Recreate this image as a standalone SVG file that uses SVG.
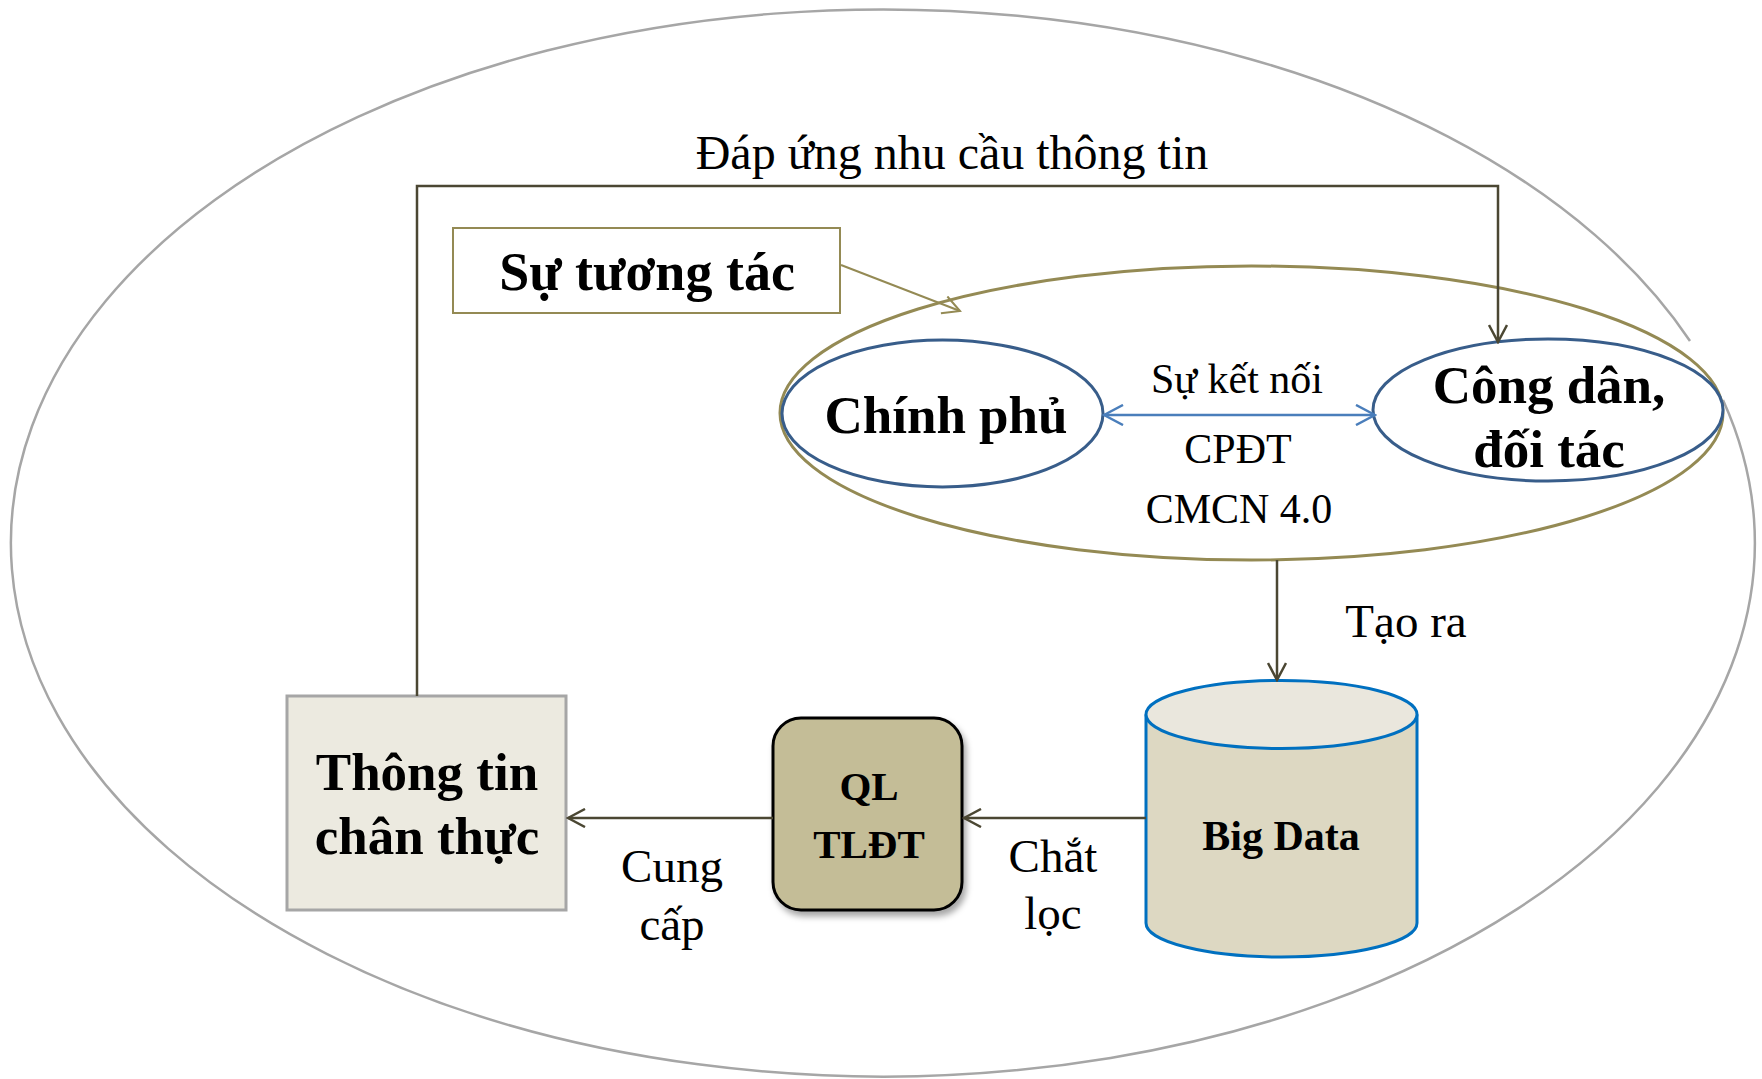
<svg xmlns="http://www.w3.org/2000/svg" width="1762" height="1079" viewBox="0 0 1762 1079">
<style>
text{font-family:"Liberation Serif","Times New Roman",serif;fill:#000;text-anchor:middle}
.b{font-weight:bold}
.conn{fill:none;stroke:#4B4733;stroke-width:2.5}
.blue{fill:none;stroke:#4A7EBB;stroke-width:2.5}
.oliv{fill:none;stroke:#948A54;stroke-width:2}
</style>
<defs>
<marker id="ah" viewBox="0 0 20 20" refX="18" refY="10" markerWidth="20" markerHeight="20" markerUnits="userSpaceOnUse" orient="auto-start-reverse">
<path d="M1 1 L18 10 L1 19" fill="none" stroke="#4B4733" stroke-width="2.5"/>
</marker>
<marker id="ahb" viewBox="0 0 22 22" refX="20" refY="11" markerWidth="22" markerHeight="22" markerUnits="userSpaceOnUse" orient="auto-start-reverse">
<path d="M1 1 L20 11 L1 21" fill="none" stroke="#4A7EBB" stroke-width="2.5"/>
</marker>
<marker id="aho" viewBox="0 0 20 20" refX="18" refY="10" markerWidth="20" markerHeight="20" markerUnits="userSpaceOnUse" orient="auto">
<path d="M1 1 L18 10 L1 19" fill="none" stroke="#948A54" stroke-width="2"/>
</marker>
<filter id="sh" x="-10%" y="-10%" width="130%" height="130%">
<feDropShadow dx="3" dy="5" stdDeviation="3" flood-color="#000" flood-opacity="0.35"/>
</filter>
</defs>
<rect width="1762" height="1079" fill="#fff"/>

<g id="outer">
<path d="M 1723 400 A 872 533.5 0 1 1 1690 341" fill="none" stroke="#A6A6A6" stroke-width="2.5"/>
</g>

<g id="interaction-ellipse">
<ellipse cx="1251.5" cy="413" rx="471.5" ry="147" fill="none" stroke="#948A54" stroke-width="3"/>
</g>

<g id="chinh-phu">
<ellipse cx="942.5" cy="413.5" rx="160.5" ry="73.5" fill="#fff" stroke="#385D8A" stroke-width="3"/>
<text class="b" x="946" y="433" font-size="53">Chính phủ</text>
</g>

<g id="cong-dan">
<ellipse cx="1548" cy="410" rx="175" ry="71" fill="#fff" stroke="#385D8A" stroke-width="3"/>
<text class="b" x="1549" y="403" font-size="53">Công dân,</text>
<text class="b" x="1549" y="467" font-size="53">đối tác</text>
</g>

<g id="su-tuong-tac">
<rect x="453" y="228" width="387" height="85" fill="#fff" stroke="#948A54" stroke-width="2"/>
<text class="b" x="647" y="290" font-size="54">Sự tương tác</text>
</g>

<g id="thong-tin">
<rect x="287" y="696" width="279" height="214" fill="#ECEAE0" stroke="#A6A6A6" stroke-width="3"/>
<text class="b" x="427" y="790" font-size="53">Thông tin</text>
<text class="b" x="427" y="854" font-size="53">chân thực</text>
</g>

<g id="ql-tldt">
<rect x="773" y="718" width="189" height="192" rx="28" ry="28" fill="#C4BD97" stroke="#000" stroke-width="3" filter="url(#sh)"/>
<text class="b" x="869" y="800" font-size="41">QL</text>
<text class="b" x="869" y="858" font-size="41">TLĐT</text>
</g>

<g id="big-data">
<path d="M 1146 714.5 L 1146 923 A 135.5 34 0 0 0 1417 923 L 1417 714.5" fill="#DDD8C2" stroke="#0070C0" stroke-width="3"/>
<ellipse cx="1281.5" cy="714.5" rx="135.5" ry="34" fill="#EAE7DD" stroke="#0070C0" stroke-width="3"/>
<text class="b" x="1281" y="850" font-size="42">Big Data</text>
</g>

<g id="connectors">
<path class="conn" d="M 417 696 L 417 186 L 1498 186 L 1498 342" marker-end="url(#ah)"/>
<path class="oliv" d="M 841 265 L 960 311" marker-end="url(#aho)"/>
<path class="blue" d="M 1104 415 L 1375 415" marker-start="url(#ahb)" marker-end="url(#ahb)"/>
<path class="conn" d="M 1277 560 L 1277 680" marker-end="url(#ah)"/>
<path class="conn" d="M 1146 818 L 964 818" marker-end="url(#ah)"/>
<path class="conn" d="M 773 818 L 568 818" marker-end="url(#ah)"/>
</g>

<g id="labels">
<text x="952" y="169" font-size="48">Đáp ứng nhu cầu thông tin</text>
<text x="1237" y="393" font-size="42">Sự kết nối</text>
<text x="1238" y="463" font-size="42">CPĐT</text>
<text x="1239" y="523" font-size="42">CMCN 4.0</text>
<text x="1406" y="637" font-size="47">Tạo ra</text>
<text x="1053" y="872" font-size="47">Chắt</text>
<text x="1053" y="929" font-size="47">lọc</text>
<text x="672" y="882" font-size="47">Cung</text>
<text x="672" y="940" font-size="47">cấp</text>
</g>
</svg>
